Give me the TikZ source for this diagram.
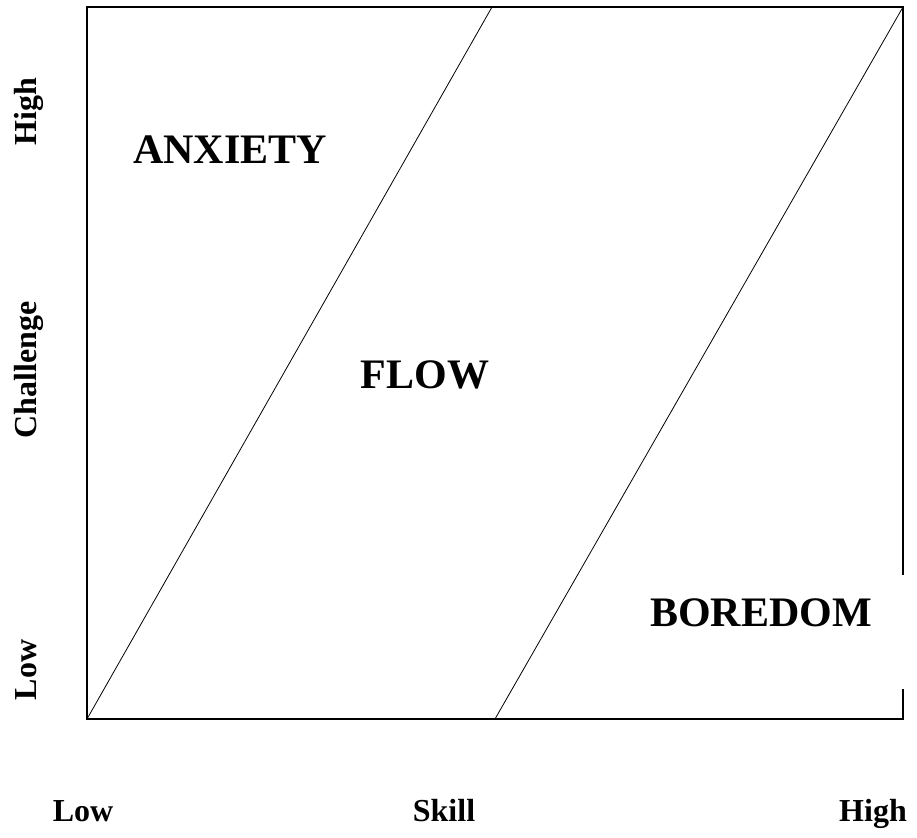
\documentclass[tikz,border=0pt]{standalone}
\usepackage{fontspec}
\setmainfont{Liberation Serif}
\usepackage{tikz}
\tikzstyle{region} = [rectangle, draw = none, font = \fontsize{42}{48}\selectfont\bfseries, inner sep = 0pt]
\tikzstyle{axislabel} = [rectangle, draw = none, font = \fontsize{32}{38}\selectfont\bfseries, inner sep = 0pt, anchor = base]
\tikzstyle{frame} = [line width = 2pt]
\tikzstyle{line} = [line width = 0.8pt]

\begin{document}
\begin{tikzpicture}[x = 1pt, y = -1pt]
        \useasboundingbox (0,0) rectangle (917,837);
        % corners of the chart
        \coordinate (SW) at (87,719);
        \coordinate (NW) at (87,7);
        \coordinate (NE) at (903,7);
        \coordinate (SE) at (903,719);
        \coordinate (gapTop) at (903,575);
        \coordinate (gapBottom) at (903,689);
        \coordinate (midTop) at (492,7);
        \coordinate (midBottom) at (495,719);
        \draw[frame] (gapTop) -- (NE) -- (NW) -- (SW) -- (SE) -- (gapBottom);
        \draw[line] (SW) -- (midTop);
        \draw[line] (midBottom) -- (NE);
        % regions
        \node(anxiety) [region] at (230,150) {ANXIETY};
        \node(flow) [region] at (425,375) {FLOW};
        \node(boredom) [region] at (761,613) {BOREDOM};
        % axes
        \node(skillLow) [axislabel] at (83,821) {Low};
        \node(skill) [axislabel] at (444,821) {Skill};
        \node(skillHigh) [axislabel] at (873,821) {High};
        \node(challengeHigh) [axislabel, rotate = 90] at (36,112) {High};
        \node(challenge) [axislabel, rotate = 90] at (36,370) {Challenge};
        \node(challengeLow) [axislabel, rotate = 90] at (36,670) {Low};
    \end{tikzpicture}
\end{document}
